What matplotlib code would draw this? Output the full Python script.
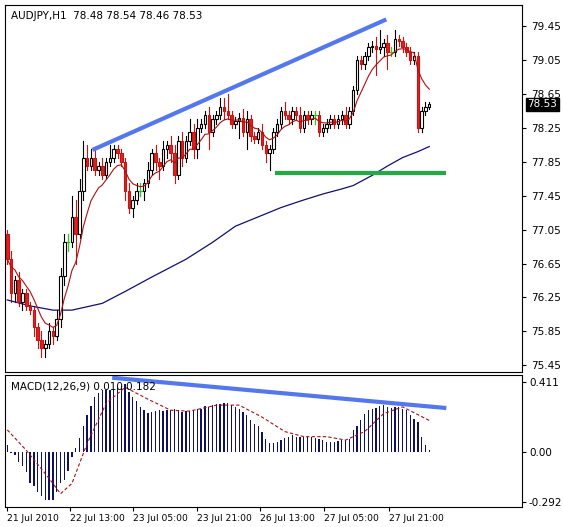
import numpy as np
import matplotlib
matplotlib.use('Agg')
import matplotlib.pyplot as plt

# hourly closes AUDJPY
close = [76.7, 76.3, 76.45, 76.2, 76.3, 76.15, 76.1, 75.9, 75.75, 75.65,
         75.7, 75.85, 75.8, 76.0, 76.5, 76.9, 76.9, 77.2, 77.0, 77.5,
         77.9, 77.8, 77.9, 77.75, 77.8, 77.7, 77.85, 77.9, 78.0, 77.95,
         77.85, 77.5, 77.3, 77.4, 77.5, 77.5, 77.6, 77.75, 77.95, 77.85,
         77.8, 78.0, 78.05, 77.95, 77.7, 78.1, 77.9, 78.1, 78.2, 78.0,
         78.25, 78.3, 78.4, 78.2, 78.35, 78.4, 78.5, 78.45, 78.4, 78.3,
         78.33, 78.37, 78.2, 78.35, 78.15, 78.12, 78.2, 78.05, 77.95, 78.0,
         78.2, 78.3, 78.45, 78.4, 78.35, 78.45, 78.4, 78.25, 78.4, 78.35,
         78.4, 78.4, 78.2, 78.25, 78.3, 78.35, 78.3, 78.35, 78.4, 78.3,
         78.45, 78.7, 79.05, 79.0, 79.1, 79.2, 79.22, 79.18, 79.2, 79.25,
         79.15, 79.15, 79.3, 79.27, 79.2, 79.15, 79.05, 79.1, 78.25, 78.45,
         78.5, 78.53]
first_open = 77.0
up_wick = [0.05, 0.1, 0.05, 0.1, 0.05, 0.05, 0.05, 0.05, 0.05, 0.1,
           0.05, 0.1, 0.05, 0.1, 0.1, 0.1, 0.1, 0.25, 0.2, 0.15,
           0.2, 0.15, 0.1, 0.1, 0.05, 0.1, 0.05, 0.15, 0.05, 0.05,
           0.05, 0.05, 0.1, 0.05, 0.1, 0.1, 0.05, 0.1, 0.05, 0.1,
           0.05, 0.1, 0.05, 0.1, 0.1, 0.05, 0.1, 0.05, 0.15, 0.1,
           0.1, 0.05, 0.05, 0.1, 0.05, 0.05, 0.1, 0.1, 0.2, 0.05,
           0.05, 0.05, 0.1, 0.1, 0.05, 0.05, 0.05, 0.1, 0.05, 0.05,
           0.05, 0.05, 0.05, 0.1, 0.05, 0.05, 0.05, 0.1, 0.05, 0.05,
           0.05, 0.05, 0.05, 0.05, 0.05, 0.05, 0.05, 0.05, 0.05, 0.1,
           0.05, 0.05, 0.05, 0.05, 0.05, 0.05, 0.05, 0.1, 0.2, 0.05,
           0.1, 0.05, 0.1, 0.05, 0.05, 0.05, 0.05, 0.05, 0.05, 0.05,
           0.05, 0.03]
dn_wick = [0.05, 0.1, 0.1, 0.05, 0.1, 0.05, 0.05, 0.1, 0.1, 0.1,
           0.1, 0.05, 0.1, 0.05, 0.1, 0.1, 0.1, 0.05, 0.35, 0.05,
           0.1, 0.05, 0.05, 0.05, 0.05, 0.05, 0.05, 0.05, 0.05, 0.05,
           0.05, 0.1, 0.05, 0.1, 0.05, 0.05, 0.1, 0.05, 0.05, 0.1,
           0.15, 0.05, 0.1, 0.1, 0.1, 0.05, 0.1, 0.05, 0.05, 0.1,
           0.1, 0.05, 0.05, 0.2, 0.05, 0.05, 0.05, 0.1, 0.05, 0.05,
           0.05, 0.2, 0.05, 0.2, 0.05, 0.05, 0.05, 0.05, 0.1, 0.2,
           0.05, 0.05, 0.05, 0.05, 0.05, 0.05, 0.05, 0.05, 0.05, 0.05,
           0.05, 0.1, 0.05, 0.05, 0.05, 0.05, 0.05, 0.05, 0.05, 0.05,
           0.05, 0.05, 0.05, 0.05, 0.05, 0.05, 0.05, 0.3, 0.05, 0.1,
           0.2, 0.05, 0.05, 0.05, 0.05, 0.05, 0.05, 0.05, 0.05, 0.05,
           0.05, 0.03]

# slow moving average, read every few bars
ma_slow_bar = [0, 6, 12, 17, 25, 31, 38, 47, 54, 60, 66, 72, 78, 83, 88, 91, 96, 100, 104, 108, 111]
ma_slow_val = [76.22, 76.15, 76.1, 76.1, 76.18, 76.32, 76.49, 76.7, 76.9, 77.09, 77.2,
               77.31, 77.4, 77.47, 77.53, 77.57, 77.69, 77.8, 77.9, 77.97, 78.03]

# MACD histogram per bar and signal line at sampled bars
macd_hist = [0.04, -0.005, -0.02, -0.06, -0.08, -0.12, -0.18, -0.2, -0.235, -0.26,
             -0.28, -0.28, -0.28, -0.235, -0.18, -0.165, -0.11, -0.03, 0.025, 0.08,
             0.15, 0.22, 0.27, 0.32, 0.345, 0.365, 0.365, 0.365, 0.37, 0.38,
             0.385, 0.40, 0.35, 0.32, 0.30, 0.265, 0.245, 0.23, 0.235, 0.24,
             0.245, 0.24, 0.245, 0.245, 0.25, 0.245, 0.235, 0.24, 0.24, 0.245,
             0.25, 0.255, 0.27, 0.265, 0.275, 0.28, 0.28, 0.285, 0.285, 0.275,
             0.265, 0.255, 0.235, 0.22, 0.185, 0.165, 0.15, 0.12, 0.075, 0.055,
             0.05, 0.06, 0.07, 0.08, 0.09, 0.1, 0.09, 0.09, 0.09, 0.09,
             0.09, 0.08, 0.075, 0.07, 0.06, 0.06, 0.06, 0.065, 0.07, 0.07,
             0.075, 0.13, 0.155, 0.19, 0.225, 0.245, 0.255, 0.26, 0.27, 0.275,
             0.265, 0.26, 0.265, 0.265, 0.255, 0.245, 0.22, 0.195, 0.175, 0.09,
             0.04, 0.01]
sig_bar = [0, 5, 11, 14, 17, 21, 26, 31, 37, 43, 48, 55, 61, 67, 73, 78, 84, 89, 94, 99, 104, 111]
sig_val = [0.13, 0.01, -0.155, -0.245, -0.185, 0.05, 0.285, 0.38, 0.31, 0.245, 0.24,
           0.275, 0.275, 0.205, 0.12, 0.09, 0.09, 0.07, 0.12, 0.225, 0.265, 0.185]

price_ticks = [79.45, 79.05, 78.65, 78.25, 77.85, 77.45, 77.05, 76.65, 76.25, 75.85, 75.45]
date_ticks = [0, 16.6, 33.2, 50, 66.6, 83.4, 100.4]
date_labels = ['21 Jul 2010', '22 Jul 13:00', '23 Jul 05:00', '23 Jul 21:00',
               '26 Jul 13:00', '27 Jul 05:00', '27 Jul 21:00']

# trendlines (bar, value)
upper_tl = ([22.4, 99.7], [77.99, 79.53])
support_tl = ([70.3, 115.5], [77.72, 77.72])
macd_tl = ([27.6, 115.5], [0.436, 0.258])

plt.rcParams['font.family'] = ['DejaVu Sans']
fig = plt.figure(figsize=(5.63, 5.27), dpi=100)
W, H = 563, 527
ax = fig.add_axes([5 / W, 1 - 372 / H, 517 / W, 367 / H])
ax2 = fig.add_axes([5 / W, 1 - 507 / H, 517 / W, 132 / H])

n = len(close)
x = np.arange(n)
opens = [first_open] + close[:-1]
xlim = (-0.6, 135.4)

for i in range(n):
    o, c = opens[i], close[i]
    hi = max(o, c) + up_wick[i]
    lo = min(o, c) - dn_wick[i]
    if abs(c - o) < 1e-9:
        ax.plot([i, i], [lo, hi], color='#22cc22', lw=0.9)
        ax.plot([i - 0.35, i + 0.35], [c, c], color='#22cc22', lw=0.9)
        continue
    ax.plot([i, i], [lo, hi], color='black' if c > o else '#cc1111', lw=0.8, zorder=2)
    if c > o:
        ax.add_patch(plt.Rectangle((i - 0.33, o), 0.66, c - o, facecolor='white',
                                   edgecolor='black', lw=0.8, zorder=3))
    else:
        ax.add_patch(plt.Rectangle((i - 0.33, c), 0.66, o - c, facecolor='#dd2222',
                                   edgecolor='#cc1111', lw=0.8, zorder=3))

# fast EMA on closes
ema = [close[0]]
k = 2 / (8 + 1)
for c in close[1:]:
    ema.append(ema[-1] + k * (c - ema[-1]))
ax.plot(x, ema, color='#aa1111', lw=0.8, zorder=4)
ax.plot(ma_slow_bar, ma_slow_val, color='#101070', lw=0.9)

ax.plot(*upper_tl, color='#5577ee', lw=3, solid_capstyle='butt')
ax.plot(*support_tl, color='#22aa44', lw=3, solid_capstyle='butt')

ax.set_xlim(*xlim)
ax.set_ylim(75.37, 79.70)
ax.yaxis.tick_right()
ax.set_yticks(price_ticks)
ax.set_yticklabels([f'{v:.2f}' for v in price_ticks])
ax.set_xticks([])
ax.tick_params(axis='y', labelsize=7.5, length=3, direction='out')
ax.text(0.012, 0.985, 'AUDJPY,H1  78.48 78.54 78.46 78.53', transform=ax.transAxes,
        fontsize=7.5, va='top')
ax.annotate('78.53', xy=(1.0, 78.53), xycoords=('axes fraction', 'data'),
            xytext=(4, 0), textcoords='offset points', va='center', fontsize=7.5,
            color='white', bbox=dict(boxstyle='square,pad=0.15', fc='black', ec='black'))

ax2.bar(x, macd_hist, width=0.35, color='#101060')
ax2.plot(sig_bar, sig_val, color='#aa1111', lw=0.8, ls=(0, (3, 2)))
ax2.plot(*macd_tl, color='#5577ee', lw=3, solid_capstyle='butt')
ax2.set_xlim(*xlim)
ax2.set_ylim(-0.323, 0.452)
ax2.yaxis.tick_right()
ax2.set_yticks([0.411, 0.0, -0.292])
ax2.set_yticklabels(['0.411', '0.00', '-0.292'])
ax2.set_xticks(date_ticks)
ax2.set_xticklabels(date_labels, ha='left')
ax2.tick_params(axis='y', labelsize=7.5, length=3, direction='out', pad=2)
ax2.tick_params(axis='x', labelsize=6.6, length=3, direction='out', pad=2)
ax2.text(0.012, 0.95, 'MACD(12,26,9) 0.010 0.182', transform=ax2.transAxes,
         fontsize=7.5, va='top')

fig.savefig('out.png', dpi=100)
